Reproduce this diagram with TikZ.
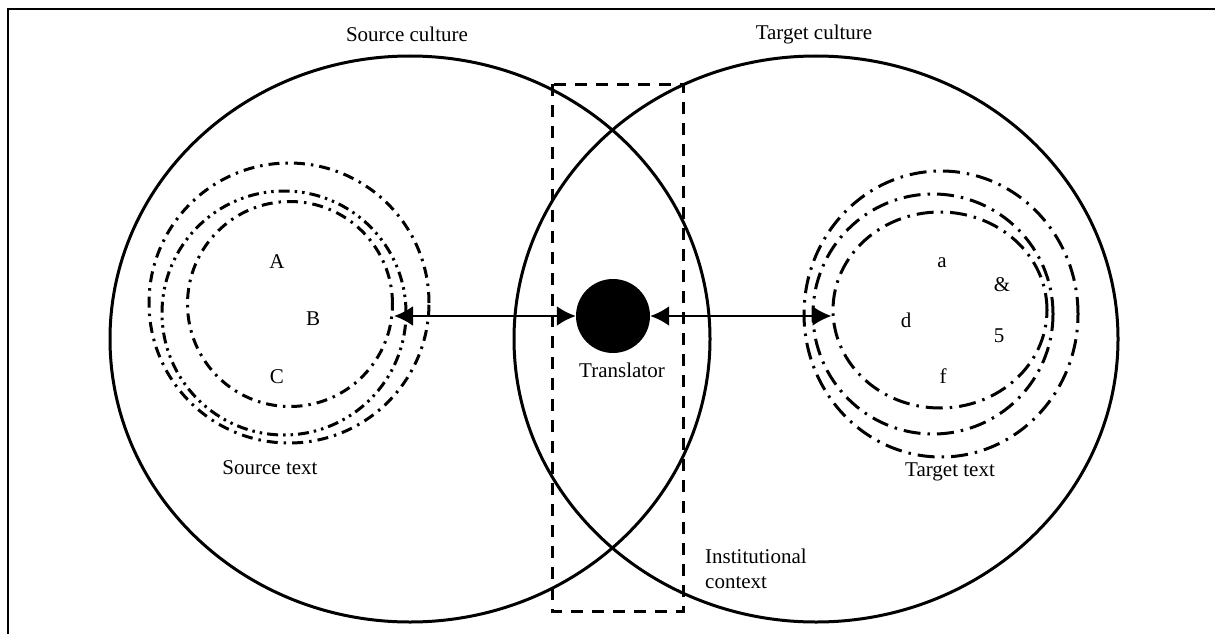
\documentclass[tikz,border=0pt]{standalone}
\usepackage{fontspec}
\setmainfont{Liberation Serif}
\usetikzlibrary{arrows.meta,shapes.geometric}
\begin{document}
\begin{tikzpicture}[x=1pt,y=-1pt,
  lbl/.style={font=\fontsize{21}{25}\selectfont, inner sep=0pt},
  culture/.style={line width=3pt},
  dd/.style={line width=3pt, dash pattern=on 11pt off 6pt on 2.5pt off 6pt},
  ddd/.style={line width=3pt, dash pattern=on 11pt off 5pt on 2.5pt off 5pt on 2.5pt off 5pt},
  ldd/.style={line width=3pt, dash pattern=on 17pt off 7pt on 2.5pt off 7pt},
  ctx/.style={line width=3pt, dash pattern=on 12pt off 9pt},
  arr/.style={line width=2.5pt, {Latex[length=19pt,width=20pt]}-{Latex[length=19pt,width=20pt]}}
]
\useasboundingbox (0,0) rectangle (1215,634);
% frame
\draw[line width=2pt] (8,634) -- (8,9) -- (1215,9);
% cultures
\draw[culture] (410,339) ellipse [x radius=300pt, y radius=283pt];
\draw[culture] (816,339) ellipse [x radius=302pt, y radius=283pt];
\node[lbl] (sc) at (407,34) {Source culture};
\node[lbl] (tc) at (814,34) {Target culture};
% institutional context
\draw[ctx] (552,84) rectangle (683,611);
\node[lbl, align=left, anchor=north west] (ic) at (705,549) {Institutional\\context};
% source text circles
\draw[dd] (289,303) circle [radius=140pt];
\draw[ddd] (284,313) circle [radius=122pt];
\node[dd, draw, circle, minimum size=205pt, inner sep=0pt] (src) at (290,304) {};
\node[lbl] (A) at (277,262) {A};
\node[lbl] (B) at (313,319) {B};
\node[lbl] (C) at (277,377) {C};
\node[lbl] (st) at (270,468) {Source text};
% target text circles
\draw[ldd] (941,314) ellipse [x radius=137pt, y radius=143pt];
\draw[ldd] (933,314) circle [radius=120pt];
\node[ldd, draw, ellipse, minimum width=214pt, minimum height=196pt, inner sep=0pt] (tgt) at (940,310) {};
\node[lbl] (a) at (942,263) {a};
\node[lbl] (amp) at (1002,285) {\&};
\node[lbl] (d) at (906,320) {d};
\node[lbl] (five) at (999,336) {5};
\node[lbl] (f) at (943,376) {f};
\node[lbl] (tt) at (950,472) {Target text};
% translator
\node[circle, fill=black, minimum size=74pt, inner sep=0pt] (tr) at (613,316) {};
\node[lbl] (trl) at (622,370) {Translator};
% arrows
\draw[arr] (tr.west -| src.east) -- (tr.west);
\draw[arr] (tr.east) -- (tr.east -| tgt.west);
\end{tikzpicture}
\end{document}
